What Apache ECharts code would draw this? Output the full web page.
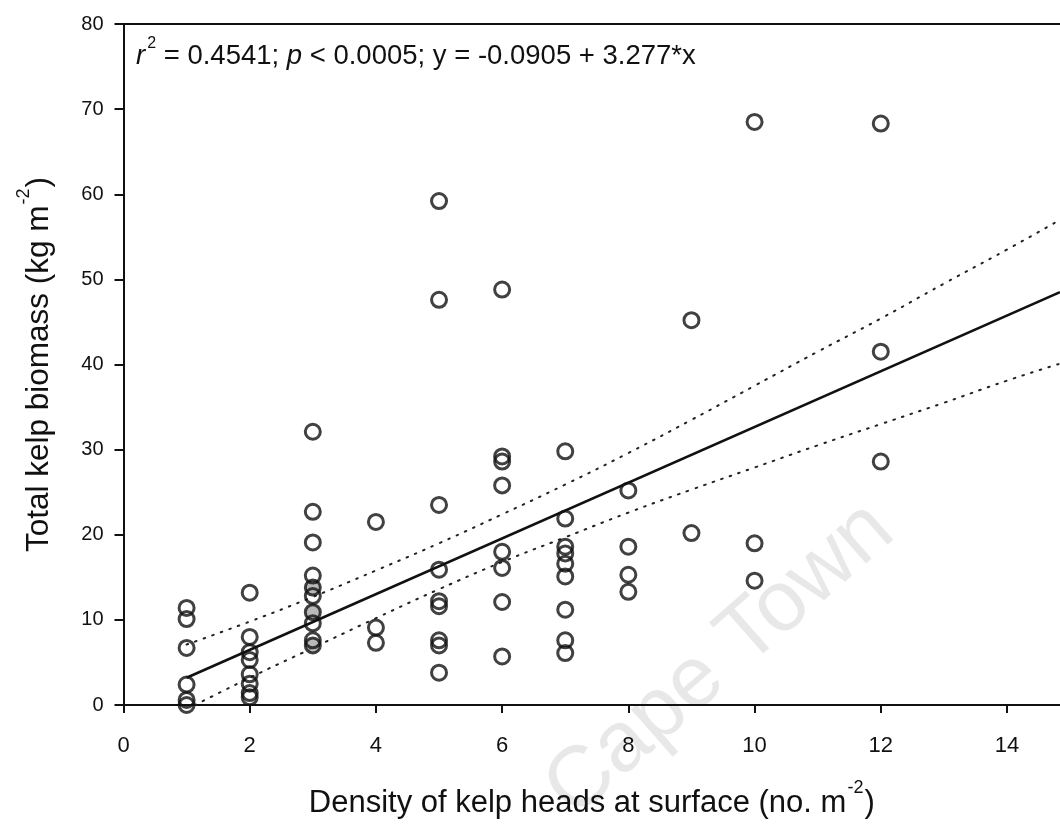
<!DOCTYPE html>
<html>
<head>
<meta charset="utf-8">
<script src="https://cdn.jsdelivr.net/npm/echarts@6/dist/echarts.min.js"></script>
<style>html,body{margin:0;padding:0;background:#fff}#c{width:1060px;height:824px}</style>
</head>
<body>
<div id="c"></div>
<script>
// ---- data ----
const xTicks = [0, 2, 4, 6, 8, 10, 12, 14];
const yTicks = [0, 10, 20, 30, 40, 50, 60, 70, 80];
const d1 = [11.4, 10.1, 6.7, 2.4, 0.6, 0.0];
const d2 = [13.2, 8.0, 6.2, 5.3, 3.6, 2.5, 1.4, 0.9];
const d3 = [32.1, 22.7, 19.1, 15.2, 12.8, 9.6, 7.6];
const d3gray = [13.8, 10.9, 7.0];
const d4 = [21.5, 9.1, 7.3];
const d5 = [59.2, 47.6, 23.5, 15.9, 12.2, 11.6, 7.6, 7.0, 3.8];
const d6 = [48.8, 29.2, 28.6, 25.8, 18.0, 16.1, 12.1, 5.7];
const d7 = [29.8, 21.9, 18.6, 17.8, 16.6, 15.1, 11.2, 7.6, 6.1];
const d8 = [25.2, 18.6, 15.3, 13.3];
const d9 = [45.2, 20.2];
const d10 = [68.5, 19.0, 14.6];
const d12 = [68.3, 41.5, 28.6];
const fitX = [1, 14.84];
const fitY = [3.2, 48.5];
const ciX = [1, 2, 3, 4, 5, 6, 7, 8, 9, 10, 11, 12, 13, 14, 14.84];
const ciUpper = [7.1, 9.8, 12.7, 15.8, 19.0, 22.4, 25.9, 29.6, 33.5, 37.5, 41.5, 45.4, 49.5, 53.5, 57.0];
const ciLower = [-0.5, 3.2, 6.7, 10.2, 13.6, 16.8, 19.7, 22.6, 25.3, 27.9, 30.5, 33.0, 35.5, 38.1, 40.1];

const groups = [[1, d1], [2, d2], [3, d3], [4, d4], [5, d5], [6, d6], [7, d7], [8, d8], [9, d9], [10, d10], [12, d12]];
const openPts = [];
groups.forEach(([x, arr]) => arr.forEach(v => openPts.push([x, v])));
const grayPts = d3gray.map(v => [3, v]);
const fitPts = fitX.map((x, i) => [x, fitY[i]]);
const upPts = ciX.map((x, i) => [x, ciUpper[i]]);
const loPts = ciX.map((x, i) => [x, ciLower[i]]);

const FONT = "'Liberation Sans', Arial, sans-serif";
const chart = echarts.init(document.getElementById('c'), null, {renderer: 'canvas'});
chart.setOption({
  animation: false,
  backgroundColor: '#fff',
  grid: {left: 123.5, right: 0, top: 24, bottom: 118, containLabel: false},
  xAxis: [{
    type: 'value', min: 0, max: 14.84, interval: 2,
    axisLine: {show: true, onZero: false, lineStyle: {color: '#111', width: 2}},
    axisTick: {show: true, length: 8, lineStyle: {color: '#111', width: 2}},
    axisLabel: {show: true, margin: 30, color: '#111', fontSize: 22, fontFamily: FONT, showMaxLabel: false,
      formatter: v => xTicks.includes(v) ? String(v) : ''},
    splitLine: {show: false},
    name: '{a|Density of kelp heads at surface (no. m}{s|-2}{a|)}',
    nameLocation: 'middle', nameGap: 74,
    nameTextStyle: {rich: {
      a: {fontSize: 31, fontFamily: FONT, color: '#111', lineHeight: 40, verticalAlign: 'bottom'},
      s: {fontSize: 18, fontFamily: FONT, color: '#111', lineHeight: 40, verticalAlign: 'top', padding: [0, 1, 0, 1]}
    }}
  }, {
    type: 'value', position: 'top', min: 0, max: 14.84,
    axisLine: {show: true, onZero: false, lineStyle: {color: '#111', width: 2}},
    axisTick: {show: false}, axisLabel: {show: false}, splitLine: {show: false}
  }],
  yAxis: {
    type: 'value', min: 0, max: 80, interval: 10,
    axisLine: {show: true, onZero: false, lineStyle: {color: '#111', width: 2}},
    axisTick: {show: true, length: 9, lineStyle: {color: '#111', width: 2}},
    axisLabel: {show: true, margin: 20, color: '#111', fontSize: 20, fontFamily: FONT,
      formatter: v => yTicks.includes(v) ? String(v) : ''},
    splitLine: {show: false},
    name: '{a|Total kelp biomass (kg m}{s|-2}{a|)}',
    nameLocation: 'middle', nameGap: 68, nameRotate: 90,
    nameTextStyle: {rich: {
      a: {fontSize: 31.5, fontFamily: FONT, color: '#111', lineHeight: 40, verticalAlign: 'bottom'},
      s: {fontSize: 18, fontFamily: FONT, color: '#111', lineHeight: 40, verticalAlign: 'top', padding: [0, 1, 0, 1]}
    }}
  },
  graphic: [
    {type: 'text', left: 136, top: 36, z: 100, style: {
      text: '{i|r}{s|2}{n| = 0.4541; }{i|p}{n| < 0.0005; y = -0.0905 + 3.277*x}',
      rich: {
        n: {fontSize: 27.5, fontFamily: FONT, fill: '#111', lineHeight: 34, verticalAlign: 'bottom'},
        i: {fontSize: 27.5, fontFamily: FONT, fontStyle: 'italic', fill: '#111', lineHeight: 34, verticalAlign: 'bottom'},
        s: {fontSize: 16, fontFamily: FONT, fill: '#111', lineHeight: 34, verticalAlign: 'top', padding: [0, 0, 0, 2]}
      }
    }},
    {type: 'text', x: 720, y: 660, rotation: 0.72, z: 0, silent: true, style: {
      text: 'Cape Town', fontSize: 86, fontFamily: FONT, fill: 'rgba(0,0,0,0.09)',
      align: 'center', verticalAlign: 'middle'
    }}
  ],
  series: [
    {type: 'line', data: upPts, smooth: true, showSymbol: false, symbol: 'none', clip: true,
      lineStyle: {color: '#222', width: 2, type: [1.6, 7.5], cap: 'round'}, z: 2},
    {type: 'line', data: loPts, smooth: true, showSymbol: false, symbol: 'none', clip: true,
      lineStyle: {color: '#222', width: 2, type: [1.6, 7.5], cap: 'round'}, z: 2},
    {type: 'line', data: fitPts, showSymbol: false, symbol: 'none',
      lineStyle: {color: '#111', width: 2.6}, z: 3},
    {type: 'scatter', data: grayPts, symbol: 'circle', symbolSize: 15,
      itemStyle: {color: '#a8a8a8', borderColor: '#111', borderWidth: 3}, z: 4},
    {type: 'scatter', data: openPts, symbol: 'circle', symbolSize: 15,
      itemStyle: {color: 'rgba(0,0,0,0)', borderColor: '#111', borderWidth: 3}, z: 5}
  ]
});
</script>
</body>
</html>
